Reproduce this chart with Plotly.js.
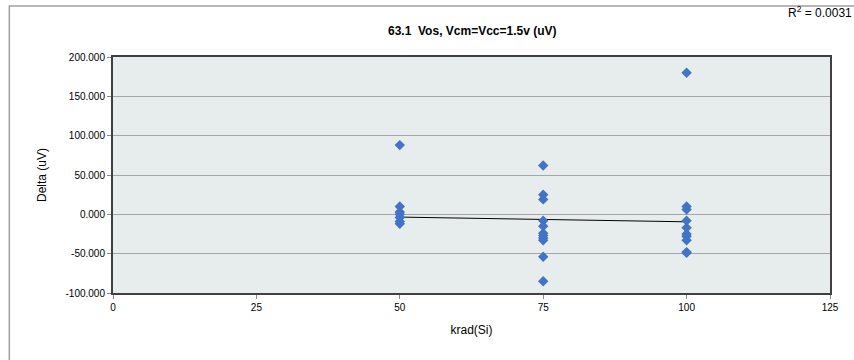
<!DOCTYPE html>
<html>
<head>
<meta charset="utf-8">
<script src="https://cdn.plot.ly/plotly-3.0.1.min.js"></script>
<style>html,body{margin:0;padding:0;background:#fff;}#chart{width:854px;height:360px;}</style>
</head>
<body>
<div id="chart"></div>
<script>
// Data
const kradX = [50,50,50,50,50,50,50,
               75,75,75,75,75,75,75,75,75,75,75,
               100,100,100,100,100,100,100,100,100,100];
const deltaY = [88,10,3,0,-4,-9,-12,
                62,25,19,-8,-15,-24,-27,-30,-33,-54,-85,
                180,10,6,-8,-17,-25,-28,-33,-48,-49];
const trendX = [50,100];
const trendY = [-3.5,-9.5];
const xTicks = [0,25,50,75,100,125];
const yTicks = [-100,-50,0,50,100,150,200];
const titleText = '63.1  Vos, Vcm=Vcc=1.5v (uV)';
const r2Text = 'R<sup>2</sup> = 0.0031';

const font = 'Liberation Sans, Arial, sans-serif';
const narrow = 'Liberation Sans Narrow, Liberation Sans, Arial, sans-serif';
const data = [
  {x: trendX, y: trendY, type: 'scatter', mode: 'lines',
   line: {color: '#000000', width: 1}, hoverinfo: 'skip', showlegend: false},
  {x: kradX, y: deltaY, type: 'scatter', mode: 'markers',
   marker: {symbol: 'diamond', size: 8, color: '#4472C4'}, showlegend: false}
];
const layout = {
  width: 854, height: 360,
  margin: {l: 113, r: 24, t: 57, b: 67},
  paper_bgcolor: '#ffffff',
  plot_bgcolor: '#E7ECEC',
  font: {family: font, size: 10, color: '#000'},
  title: {text: '<b>' + titleText + '</b>', font: {size: 12, family: narrow},
          x: 0.553, xanchor: 'center', y: 0.915, yanchor: 'middle'},
  xaxis: {range: [0,125], tickvals: xTicks, ticktext: xTicks.map(String),
          showgrid: false, zeroline: false, showline: true, linecolor: '#404040', linewidth: 2,
          mirror: true, ticks: 'outside', ticklen: 4, tickcolor: '#888', tickfont: {size: 10},
          title: {text: 'krad(Si)', font: {size: 12, family: narrow}, standoff: 14}},
  yaxis: {range: [-100,200], tickvals: yTicks, ticktext: yTicks.map(v => v.toFixed(3)),
          showgrid: true, gridcolor: '#A6A6A6', gridwidth: 1, zeroline: false,
          showline: true, linecolor: '#404040', linewidth: 2, mirror: true,
          ticks: 'outside', ticklen: 4, tickcolor: '#888', tickfont: {size: 10},
          title: {text: 'Delta (uV)', font: {size: 12, family: narrow}, standoff: 16}},
  shapes: [
    {type: 'rect', xref: 'paper', yref: 'paper', x0: -0.1446, x1: 1.2, y0: -0.4, y1: 1.2161,
     line: {color: '#A0A0A0', width: 1.5}, fillcolor: 'rgba(0,0,0,0)', layer: 'below'}
  ],
  annotations: [
    {text: r2Text, xref: 'paper', yref: 'paper', x: 1.034, y: 1.19, xanchor: 'right', yanchor: 'middle',
     showarrow: false, font: {size: 12, family: narrow}}
  ]
};
Plotly.newPlot('chart', data, layout, {staticPlot: true, displayModeBar: false});
</script>
</body>
</html>
